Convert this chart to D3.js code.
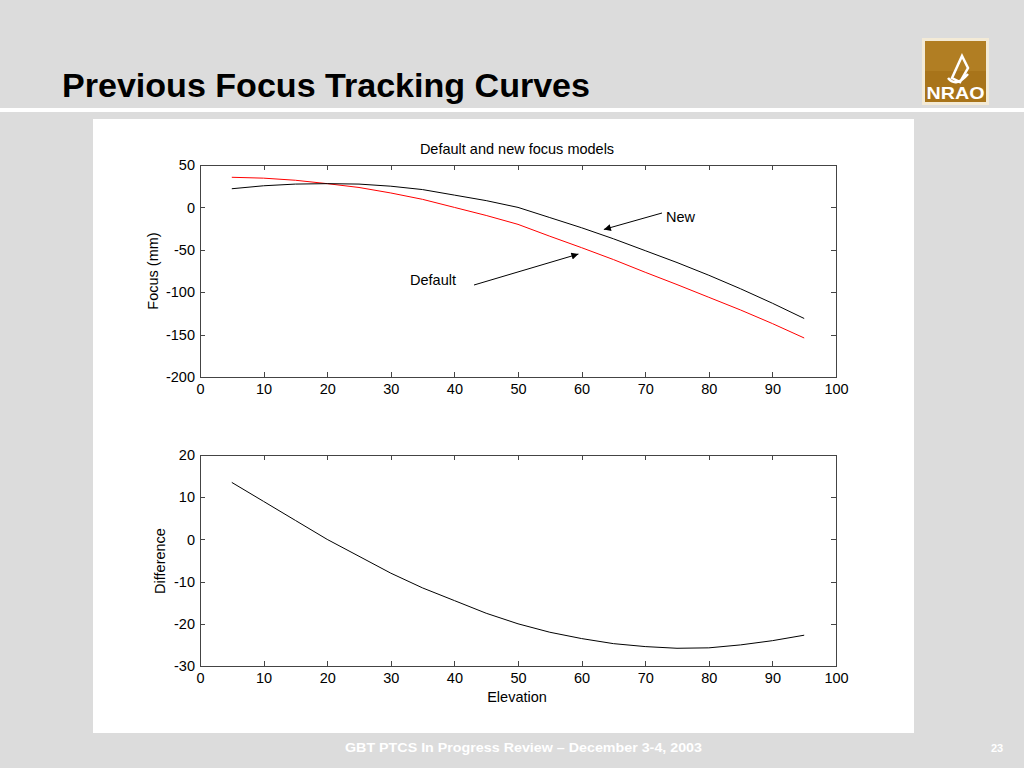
<!DOCTYPE html>
<html lang="en">
<head>
<meta charset="UTF-8">
<title>Previous Focus Tracking Curves</title>
<script src="https://d3js.org/d3.v7.min.js"></script>
<style>
  body, html { margin: 0; padding: 0; background: #dcdcdc; }
  svg { display: block; font-family: "Liberation Sans", Arial, sans-serif; }
  .axis path, .axis line { stroke: #444; shape-rendering: crispEdges; }
  .axis text { font-size: 14.5px; fill: #000; font-family: "Liberation Sans", Arial, sans-serif; }
</style>
</head>
<body>
<script>
// elevation samples (deg)
var elevation = [5, 10, 15, 20, 25, 30, 35, 40, 45, 50, 55, 60, 65, 70, 75, 80, 85, 90, 95];
// "New" focus model (black), mm
var newFocus = [22, 25.5, 27.5, 28, 27.5, 25, 21, 14.5, 8, 0, -12, -24, -37, -51, -65, -80, -96, -113, -131];
// "Default" focus model (red), mm
var defaultFocus = [35.5, 34.5, 32, 28, 23.5, 17, 9.5, 0, -9.5, -20, -34, -47.5, -61.5, -76.5, -91, -106, -121, -137, -154];
// difference (default - new), lower panel
var difference = [13.5, 9, 4.5, 0, -4, -8, -11.5, -14.5, -17.5, -20, -22, -23.5, -24.7, -25.4, -25.8, -25.7, -25, -24, -22.7];
var xTicks = [0, 10, 20, 30, 40, 50, 60, 70, 80, 90, 100];
var topTicks = [-200, -150, -100, -50, 0, 50];
var bottomTicks = [-30, -20, -10, 0, 10, 20];

var W = 1024, H = 768;
var svg = d3.select("body").append("svg").attr("width", W).attr("height", H);

// slide background
svg.append("rect").attr("width", W).attr("height", H).attr("fill", "#dcdcdc");
svg.append("rect").attr("x", 0).attr("y", 108).attr("width", W).attr("height", 4).attr("fill", "#fff");
svg.append("text").attr("x", 62).attr("y", 97)
  .attr("font-size", "34px").attr("font-weight", "bold").attr("fill", "#000")
  .attr("textLength", 528).attr("lengthAdjust", "spacingAndGlyphs")
  .text("Previous Focus Tracking Curves");

// NRAO logo (rough)
var logo = svg.append("g").attr("transform", "translate(922,38)");
logo.append("rect").attr("width", 67).attr("height", 67).attr("fill", "#f3ead6");
logo.append("rect").attr("x", 3).attr("y", 3).attr("width", 61).attr("height", 61).attr("fill", "#a8741a");
logo.append("rect").attr("x", 3).attr("y", 3).attr("width", 61).attr("height", 30).attr("fill", "#b8862a").attr("opacity", 0.6);
logo.append("path").attr("d", "M30,40 L40,18 L46,30 L38,44 Z M26,40 Q34,50 46,36")
  .attr("fill", "none").attr("stroke", "#fff").attr("stroke-width", 2.5);
logo.append("text").attr("x", 33.5).attr("y", 61).attr("text-anchor", "middle")
  .attr("font-size", "17px").attr("font-weight", "bold").attr("fill", "#fff")
  .attr("textLength", 58).attr("lengthAdjust", "spacingAndGlyphs").text("NRAO");

// white figure panel
svg.append("rect").attr("x", 93).attr("y", 119).attr("width", 821).attr("height", 614).attr("fill", "#fff");

// footer
svg.append("text").attr("x", 345).attr("y", 752)
  .attr("font-size", "13px").attr("font-weight", "bold").attr("fill", "#fff")
  .attr("textLength", 357).attr("lengthAdjust", "spacingAndGlyphs")
  .text("GBT PTCS In Progress  Review \u2013 December 3-4, 2003");
svg.append("text").attr("x", 997).attr("y", 752).attr("text-anchor", "middle")
  .attr("font-size", "11px").attr("font-weight", "bold").attr("fill", "#fff").text("23");

var x = d3.scaleLinear().domain([0, 100]).range([200, 836]);
var fmt = function(d) { return String(d); };

function drawAxes(y, yTicks, top, bottom) {
  var g = svg.append("g");
  g.append("g").attr("class", "axis").attr("transform", "translate(0," + bottom + ")")
    .call(d3.axisBottom(x).tickValues(xTicks).tickSizeInner(-5).tickSizeOuter(0).tickPadding(7).tickFormat(fmt));
  g.append("g").attr("class", "axis").attr("transform", "translate(0," + top + ")")
    .call(d3.axisTop(x).tickValues(xTicks).tickSizeInner(-5).tickSizeOuter(0).tickFormat(""));
  g.append("g").attr("class", "axis").attr("transform", "translate(200,0)")
    .call(d3.axisLeft(y).tickValues(yTicks).tickSizeInner(-5).tickSizeOuter(0).tickPadding(5).tickFormat(fmt));
  g.append("g").attr("class", "axis").attr("transform", "translate(836,0)")
    .call(d3.axisRight(y).tickValues(yTicks).tickSizeInner(-5).tickSizeOuter(0).tickFormat(""));
  g.selectAll(".domain").remove();
  g.append("rect").attr("x", 200).attr("y", top).attr("width", 636).attr("height", bottom - top)
    .attr("fill", "none").attr("stroke", "#444").attr("shape-rendering", "crispEdges");
  return g;
}

// arrow marker
svg.append("defs").append("marker").attr("id", "arr")
  .attr("viewBox", "0 0 10 10").attr("refX", 10).attr("refY", 5)
  .attr("markerWidth", 11).attr("markerHeight", 7).attr("markerUnits", "userSpaceOnUse")
  .attr("orient", "auto")
  .append("path").attr("d", "M0,0 L10,5 L0,10 Z").attr("fill", "#000");

// ---- top panel
var yTop = d3.scaleLinear().domain([-200, 50]).range([377, 165]);
drawAxes(yTop, topTicks, 165, 377);
var line1 = d3.line().x(function(d, i) { return x(elevation[i]); }).y(function(d) { return yTop(d); });
svg.append("path").datum(defaultFocus).attr("d", line1).attr("fill", "none").attr("stroke", "#ff0000").attr("stroke-width", 1);
svg.append("path").datum(newFocus).attr("d", line1).attr("fill", "none").attr("stroke", "#000").attr("stroke-width", 1);

svg.append("text").attr("x", 517).attr("y", 154).attr("text-anchor", "middle")
  .attr("font-size", "14.5px").text("Default and new focus models");
svg.append("text").attr("transform", "translate(158,271) rotate(-90)").attr("text-anchor", "middle")
  .attr("font-size", "14.5px").text("Focus (mm)");

// annotations
svg.append("text").attr("x", 666).attr("y", 222).attr("font-size", "14.5px").text("New");
svg.append("line").attr("x1", 662).attr("y1", 213).attr("x2", x(63.5)).attr("y2", yTop(-26))
  .attr("stroke", "#000").attr("marker-end", "url(#arr)");
svg.append("text").attr("x", 410).attr("y", 285).attr("font-size", "14.5px").text("Default");
svg.append("line").attr("x1", 474).attr("y1", 285).attr("x2", x(59.5)).attr("y2", yTop(-55))
  .attr("stroke", "#000").attr("marker-end", "url(#arr)");

// ---- bottom panel
var yBot = d3.scaleLinear().domain([-30, 20]).range([666, 455]);
drawAxes(yBot, bottomTicks, 455, 666);
var line2 = d3.line().x(function(d, i) { return x(elevation[i]); }).y(function(d) { return yBot(d); });
svg.append("path").datum(difference).attr("d", line2).attr("fill", "none").attr("stroke", "#000").attr("stroke-width", 1);

svg.append("text").attr("transform", "translate(165,561) rotate(-90)").attr("text-anchor", "middle")
  .attr("font-size", "14.5px").text("Difference");
svg.append("text").attr("x", 517).attr("y", 702).attr("text-anchor", "middle")
  .attr("font-size", "14.5px").text("Elevation");
</script>
</body>
</html>
